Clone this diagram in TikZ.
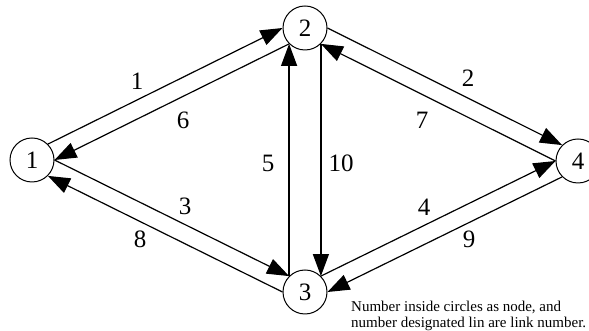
\documentclass[tikz,border=0pt]{standalone}
\usepackage{fontspec}
\setmainfont{Liberation Serif}
\usepackage{tikz}
\usetikzlibrary{arrows.meta}

\begin{document}
\begin{tikzpicture}[x=1pt,y=1pt,>={Triangle[length=22pt,width=16pt]},
  nd/.style={draw,circle,line width=1pt,minimum size=44pt,inner sep=0pt,font=\fontsize{25}{30}\selectfont},
  lnk/.style={->,line width=1.2pt},
  lbl/.style={inner sep=0pt,font=\fontsize{25}{30}\selectfont}]
\useasboundingbox (0,0) rectangle (589,331);
% nodes
\node[nd] (n1) at (32,171) {1};
\node[nd] (n2) at (305,303) {2};
\node[nd] (n3) at (305,39) {3};
\node[nd] (n4) at (578,170) {4};
% links
\draw[lnk] (n1.45) -- (n2.180);
\draw[lnk] (n2.225) -- (n1.0);
\draw[lnk] (n2.0) -- (n4.135);
\draw[lnk] (n4.180) -- (n2.315);
\draw[lnk] (n1.0) -- (n3.135);
\draw[lnk] (n3.180) -- (n1.-45);
\draw[lnk] (n3.45) -- (n4.180);
\draw[lnk] (n4.225) -- (n3.0);
\draw[lnk] (n3.135) -- (n2.225);
\draw[lnk] (n2.315) -- (n3.45);
% link numbers
\node[lbl] (l1) at (137,250) {1};
\node[lbl] (l2) at (468,253) {2};
\node[lbl] (l3) at (185,125) {3};
\node[lbl] (l4) at (424,124) {4};
\node[lbl] (l5) at (268,168) {5};
\node[lbl] (l6) at (183,211) {6};
\node[lbl] (l7) at (422,211) {7};
\node[lbl] (l8) at (140,92) {8};
\node[lbl] (l9) at (469,92) {9};
\node[lbl] (l10) at (341,168) {10};
\node[anchor=north west,inner sep=0pt,align=left,font=\fontsize{15}{16}\selectfont] (note) at (351,30)
  {Number inside circles as node, and\\number designated lin are link number.};
\end{tikzpicture}
\end{document}
